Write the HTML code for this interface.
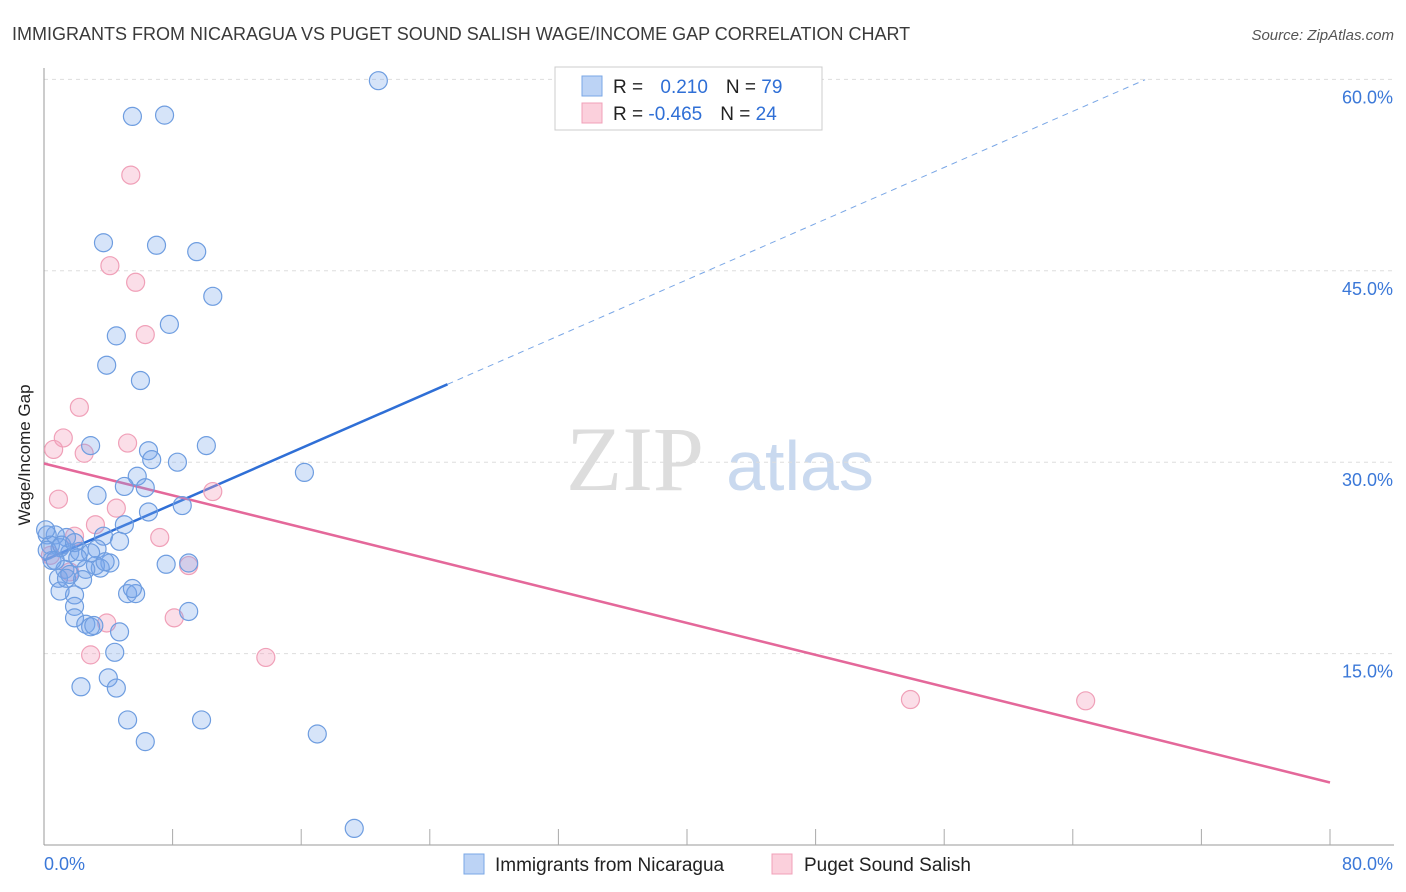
<!DOCTYPE html>
<html><head><meta charset="utf-8"><style>
body{margin:0;background:#fff;font-family:"Liberation Sans",sans-serif;}
svg{display:block}
</style></head><body>
<svg id="c" width="1406" height="892">
<text x="12" y="40" font-size="18" fill="#3a3a3a">IMMIGRANTS FROM NICARAGUA VS PUGET SOUND SALISH WAGE/INCOME GAP CORRELATION CHART</text>
<text x="1394" y="40" font-size="15" fill="#555" font-style="italic" text-anchor="end">Source: ZipAtlas.com</text>
<text x="30" y="455" font-size="17" fill="#222" text-anchor="middle" transform="rotate(-90 30 455)">Wage/Income Gap</text>
<g><text x="635" y="490" font-size="92" fill="#ddd" font-family="Liberation Serif,serif" text-anchor="middle">ZIP</text><text x="800" y="490" font-size="70" fill="#c9d9ef" text-anchor="middle">atlas</text></g>
<g id="grid"></g><g id="axes"></g><g id="lines"></g><g id="pts"></g>
<g>
<rect x="555" y="67" width="267" height="63" fill="#fff" stroke="#ccc"/>
<rect x="582" y="76" width="20" height="20" fill="#bcd3f5" stroke="#7aa7e6"/>
<rect x="582" y="103" width="20" height="20" fill="#fbd0dc" stroke="#f0a0b8"/>
<text x="613" y="93" font-size="19" fill="#222">R = <tspan fill="#2f6fd6" dx="12">0.210</tspan><tspan dx="18" fill="#222">N = </tspan><tspan fill="#2f6fd6">79</tspan></text>
<text x="613" y="120" font-size="19" fill="#222">R = <tspan fill="#2f6fd6">-0.465</tspan><tspan dx="18" fill="#222">N = </tspan><tspan fill="#2f6fd6">24</tspan></text>
</g>
<g>
<rect x="464" y="854" width="20" height="20" fill="#bcd3f5" stroke="#7aa7e6"/>
<text x="495" y="871" font-size="19" fill="#222">Immigrants from Nicaragua</text>
<rect x="772" y="854" width="20" height="20" fill="#fbd0dc" stroke="#f0a0b8"/>
<text x="804" y="871" font-size="19" fill="#222">Puget Sound Salish</text>
</g>
</svg>
<script>
const yTicks=[15,30,45,60];
const yTickLabels=["15.0%","30.0%","45.0%","60.0%"];
const xTickLabels=["0.0%","80.0%"];
const blueX=[20.8,5.5,7.5,3.7,7.0,9.5,10.5,7.8,4.5,3.9,6.0,2.9,10.1,6.5,6.7,8.3,16.2,5.8,5.0,6.3,3.3,8.6,6.5,5.0,3.7,4.7,1.4,0.7,0.2,0.4,1.0,1.6,2.2,3.3,4.1,3.2,3.5,2.6,1.3,0.9,1.6,2.4,1.9,1.0,1.9,1.9,2.6,2.9,3.1,4.7,4.4,5.2,5.7,5.5,7.6,9.0,9.0,4.0,4.5,2.3,5.2,9.8,6.3,17.0,19.3,0.1,0.5,1.4,2.9,3.8,0.2,0.7,1.1,1.9,2.1];
const blueY=[59.9,57.1,57.2,47.2,47.0,46.5,43.0,40.8,39.9,37.6,36.4,31.3,31.3,30.9,30.2,30.0,29.2,28.9,28.1,28.0,27.4,26.6,26.1,25.1,24.2,23.8,24.1,24.3,24.3,23.5,23.3,22.9,23.0,23.2,22.1,21.9,21.7,21.6,21.6,20.9,21.2,20.8,19.6,19.9,18.7,17.8,17.3,17.1,17.2,16.7,15.1,19.7,19.7,20.1,22.0,22.1,18.3,13.1,12.3,12.4,9.8,9.8,8.1,8.7,1.3,24.7,22.3,20.9,22.9,22.2,23.1,22.3,23.5,23.7,22.5];
const pinkX=[5.4,4.1,5.7,6.3,2.2,1.2,0.6,5.2,2.5,0.9,4.5,10.5,3.2,1.9,7.2,0.4,9.0,1.6,3.9,8.1,2.9,13.8,53.9,64.8];
const pinkY=[52.5,45.4,44.1,40.0,34.3,31.9,31.0,31.5,30.7,27.1,26.4,27.7,25.1,24.2,24.1,22.7,21.9,21.4,17.4,17.8,14.9,14.7,11.4,11.3];
const blueTrend=[22.3,0.55,25.1,68.5]; // intercept, slope, solid end, dashed end
const pinkTrend=[29.9,4.9]; // y at 0, y at 80
const X=v=>44+v*16.075, Y=v=>845-v*12.76;
const NS="http://www.w3.org/2000/svg";
function mk(t,p,a){const e=document.createElementNS(NS,t);for(const k in a)e.setAttribute(k,a[k]);p.appendChild(e);return e;}
const g=document.getElementById('grid'),ax=document.getElementById('axes'),ln=document.getElementById('lines'),pt=document.getElementById('pts');
yTicks.forEach((t,i)=>{
 const l=mk('line',g,{x1:44,x2:1394,y1:Y(t),y2:Y(t),stroke:'#ddd','stroke-dasharray':'4 4'});
 
 
 const tx=mk('text',g,{x:1393,y:Y(t)+24,'font-size':18,fill:'#3b78d8','text-anchor':'end'});
 tx.textContent=yTickLabels[i];
 
 
});
mk('line',ax,{x1:44,x2:44,y1:68,y2:845,stroke:'#999'});
mk('line',ax,{x1:44,x2:1394,y1:845,y2:845,stroke:'#999'});
for(let i=1;i<=10;i++){mk('line',ax,{x1:X(i*8),x2:X(i*8),y1:829,y2:845,stroke:'#aaa'});}
const xl0=mk('text',ax,{x:44,y:870,'font-size':18,fill:'#3b78d8'});xl0.textContent=xTickLabels[0];


const xl1=mk('text',ax,{x:1393,y:870,'font-size':18,fill:'#3b78d8','text-anchor':'end'});xl1.textContent=xTickLabels[1];


const bl=mk('line',ln,{x1:X(0),y1:Y(blueTrend[0]),x2:X(blueTrend[2]),y2:Y(blueTrend[0]+blueTrend[1]*blueTrend[2]),stroke:'#2f6fd6','stroke-width':2.5});


const bd=mk('line',ln,{x1:X(blueTrend[2]),y1:Y(blueTrend[0]+blueTrend[1]*blueTrend[2]),x2:X(blueTrend[3]),y2:Y(blueTrend[0]+blueTrend[1]*blueTrend[3]),stroke:'#7aa7e6','stroke-width':1,'stroke-dasharray':'6 5'});


const pl=mk('line',ln,{x1:X(0),y1:Y(pinkTrend[0]),x2:X(80),y2:Y(pinkTrend[1]),stroke:'#e4689a','stroke-width':2.5});


pinkX.forEach((x,i)=>{
 const c=mk('circle',pt,{cx:X(x),cy:Y(pinkY[i]),r:9,fill:'rgba(244,160,188,0.35)',stroke:'#f0a0b8','stroke-width':1.2});
 
 
});
blueX.forEach((x,i)=>{
 const c=mk('circle',pt,{cx:X(x),cy:Y(blueY[i]),r:9,fill:'rgba(120,165,235,0.3)',stroke:'#6e9de0','stroke-width':1.2});
 
 
});
</script>
</body></html>
